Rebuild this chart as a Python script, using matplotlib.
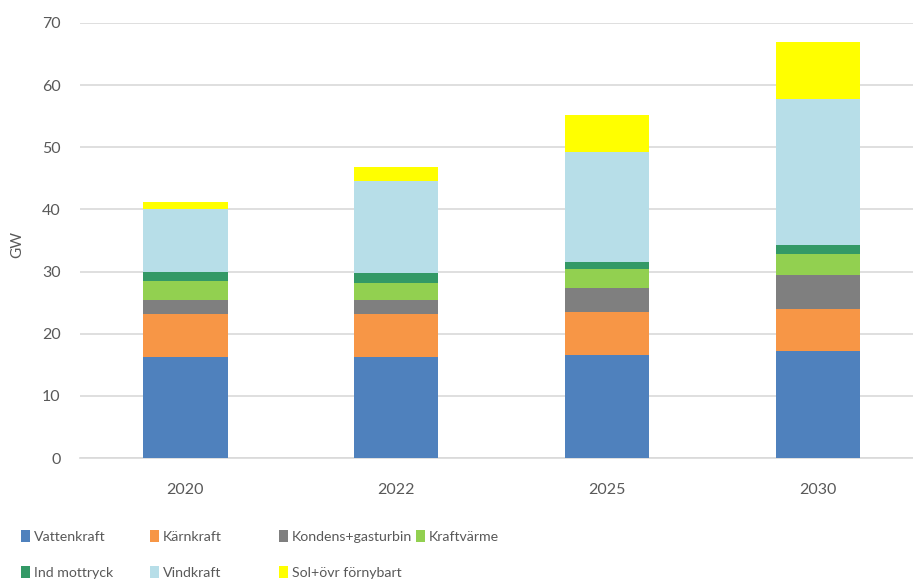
import matplotlib
matplotlib.use("Agg")
import matplotlib.pyplot as plt
from matplotlib.patches import Patch
import numpy as np

years = ["2020", "2022", "2025", "2030"]
series_names = ["Vattenkraft", "Kärnkraft", "Kondens+gasturbin", "Kraftvärme",
                "Ind mottryck", "Vindkraft", "Sol+övr förnybart"]
vattenkraft = [16.25, 16.25, 16.6, 17.2]
karnkraft = [6.95, 6.95, 6.9, 6.8]
kondens = [2.3, 2.2, 3.9, 5.5]
kraftvarme = [3.0, 2.7, 3.0, 3.4]
ind_mottryck = [1.5, 1.6, 1.1, 1.4]
vindkraft = [10.0, 14.8, 17.8, 23.5]
sol = [1.2, 2.3, 5.95, 9.1]

values = [vattenkraft, karnkraft, kondens, kraftvarme, ind_mottryck, vindkraft, sol]
colors = ["#4F81BD", "#F79646", "#7F7F7F", "#92D050", "#339966", "#B7DEE8", "#FFFF00"]

plt.rcParams['font.family'] = ['Lato', 'DejaVu Sans']
tick_fs = 11.5
leg_fs = 10.2
txt = "#595959"

fig = plt.figure(figsize=(9.13, 5.83), dpi=100)
ax = fig.add_axes([80/913, (583-458)/583, (923.5-80)/913, (458-23)/583])

x = np.arange(len(years))
bottom = np.zeros(len(years))
for name, vals, c in zip(series_names, values, colors):
    ax.bar(x, vals, width=0.4, bottom=bottom, color=c, label=name, zorder=3)
    bottom += np.array(vals)

ax.set_xlim(-0.5, 3.5)
ax.set_ylim(0, 70)
ax.set_yticks(range(0, 71, 10))
ax.set_xticks(x)
ax.set_xticklabels(years)
ax.yaxis.grid(True, color="#D9D9D9", linewidth=1.2, zorder=0)
for s in ["top", "right", "left"]:
    ax.spines[s].set_visible(False)
ax.spines["bottom"].set_color("#D9D9D9")
ax.spines["bottom"].set_linewidth(1.2)
ax.tick_params(axis="both", length=0, labelsize=tick_fs, labelcolor=txt)
ax.tick_params(axis="y", pad=14)
ax.tick_params(axis="x", pad=18)
ax.set_ylabel("GW", fontsize=tick_fs - 0.5, color=txt)
ax.yaxis.set_label_coords(-56/843.5, 0.49)

handles = [Patch(facecolor=c) for c in colors]
cols = [[0, 4], [1, 5], [2, 6], [3]]
xs = [21, 150, 279, 416]
for col, xpos in zip(cols, xs):
    leg = fig.legend([handles[i] for i in col], [series_names[i] for i in col],
                     loc="upper left", bbox_to_anchor=(xpos/913, 1 - 530/583),
                     frameon=False, fontsize=leg_fs, handlelength=0.6, handleheight=0.95,
                     handletextpad=0.3, labelspacing=1.6, borderaxespad=0,
                     borderpad=0)
    for t in leg.get_texts():
        t.set_color(txt)

fig.savefig("out.png", dpi=100)
